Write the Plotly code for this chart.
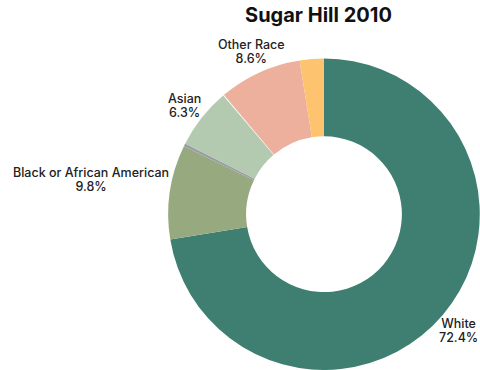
import math
import plotly.graph_objects as go

# Race composition, Sugar Hill 2010 (percent of population)
categories = [
    "White",
    "Black or African American",
    "American Indian and Alaska Native",
    "Asian",
    "Native Hawaiian and Other Pacific Islander",
    "Other Race",
    "Two or More Races",
]
shares = [72.4, 9.8, 0.3, 6.3, 0.1, 8.6, 2.5]
colors = ["#3f7f72", "#97a97f", "#9a9fa3", "#b3c9b0", "#f4f1ec", "#ecb09c", "#fdc36f"]
labelled = ["White", "Black or African American", "Asian", "Other Race"]

W, H = 480, 370
dom_x = [0.35, 1.0]
dom_y = [0.0, 0.842]

# Base size sets the line spacing; the span sets the glyph size
label_font = dict(family="Inter, sans-serif", size=11, color="#222222", weight=500)
glyph_px = 12.5

fig = go.Figure(
    go.Pie(
        labels=categories,
        values=shares,
        textinfo="none",
        hole=0.5,
        sort=False,
        direction="clockwise",
        rotation=0,
        marker=dict(colors=colors, line=dict(width=0)),
        domain=dict(x=dom_x, y=dom_y),
        showlegend=False,
        hoverinfo="label+percent",
    )
)

# Pie geometry in pixels, the same way plotly lays out a pie in its domain
box_w = W * (dom_x[1] - dom_x[0])
box_h = H * (dom_y[1] - dom_y[0])
radius = min(box_w, box_h) / 2
cx = W * (dom_x[0] + dom_x[1]) / 2
cy = H * (1 - dom_y[0]) - box_h / 2  # screen y (down)

# Outside labels placed at each slice's mid-angle
total = sum(shares)
start = 0.0
for cat, val in zip(categories, shares):
    mid = (start + val / 2) / total * 2 * math.pi  # clockwise from 12 o'clock
    start += val
    if cat not in labelled:
        continue
    s, c = math.sin(mid), math.cos(mid)
    px = cx + radius * s
    py = cy - radius * c
    if abs(s) < 0.5:
        xanchor = "center"
        px += 20 * s
        py -= 10 * c
    else:
        xanchor = "left" if s > 0 else "right"
    # vertical centre of the two-line block, above or below the anchor point
    py += -12 if c > 0 else 15
    # keep labels inside the canvas
    if xanchor == "left" and px > W - 45:
        xanchor, px = "right", W - 1
    fig.add_annotation(
        text=(f"<span style='font-size:{glyph_px}px'>{cat}</span><br>"
              f"<span style='font-size:{glyph_px}px'>{val:.1f}%</span>"),
        x=px / W,
        y=1 - py / H,
        xref="paper",
        yref="paper",
        xanchor=xanchor,
        yanchor="middle",
        align="center",
        showarrow=False,
        borderpad=0,
        font=label_font,
    )

fig.update_layout(
    width=W,
    height=H,
    margin=dict(l=0, r=0, t=0, b=0),
    paper_bgcolor="white",
    plot_bgcolor="white",
    title=dict(
        text="<b>Sugar Hill 2010</b>",
        x=0.6635,
        xanchor="center",
        y=0.978,
        yanchor="top",
        font=dict(family="Inter, sans-serif", size=20, color="#111111"),
    ),
)

fig.write_html("out.html")
